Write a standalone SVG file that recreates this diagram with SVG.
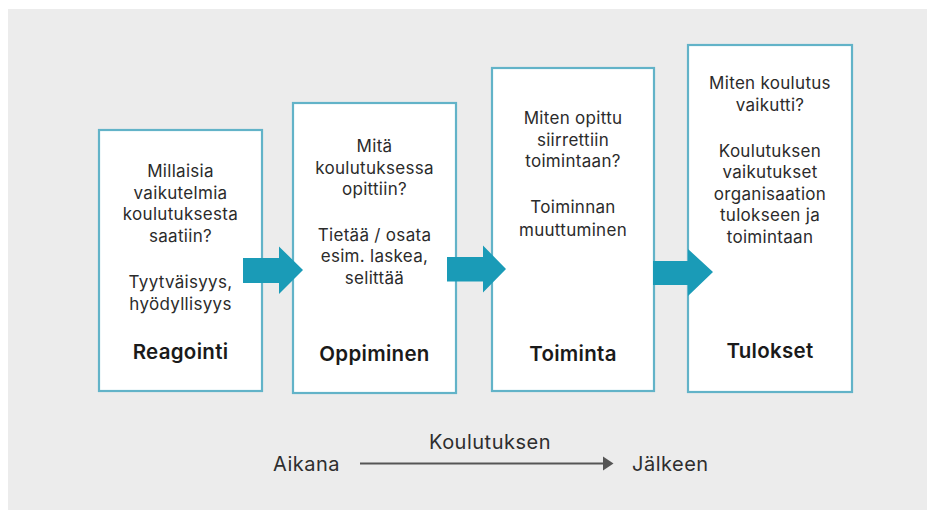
<svg xmlns="http://www.w3.org/2000/svg" width="927" height="510" viewBox="0 0 927 510">
<defs>
<style>
.bg{fill:#ececec}
.box{fill:#ffffff;stroke:#62b3c8;stroke-width:2.2}
.t{font-family:Inter,"Open Sans","Liberation Sans",sans-serif;font-size:17px;letter-spacing:0.3px;fill:#2b2b2b;text-anchor:middle}
.b{font-family:Inter,"Open Sans","Liberation Sans",sans-serif;font-size:20.5px;letter-spacing:0.3px;font-weight:600;fill:#1a1a1a;text-anchor:middle}
.s{font-family:Inter,"Open Sans","Liberation Sans",sans-serif;font-size:20px;letter-spacing:0.5px;fill:#2e2e2e}
.arr{fill:#1a9bb7}
</style>
</defs>
<rect class="bg" x="8" y="9" width="919" height="501"/>
<g id="reagointi">
<rect class="box" x="99" y="130" width="163" height="261"/>
<text class="t" x="180.5" y="177">Millaisia</text>
<text class="t" x="180.5" y="198.5">vaikutelmia</text>
<text class="t" x="180.5" y="220">koulutuksesta</text>
<text class="t" x="180.5" y="241.5">saatiin?</text>
<text class="t" x="180.5" y="288">Tyytväisyys,</text>
<text class="t" x="180.5" y="309.5">hyödyllisyys</text>
<text class="b" x="180.5" y="359">Reagointi</text>
</g>
<g id="oppiminen">
<rect class="box" x="293" y="103" width="163" height="290"/>
<text class="t" x="374.5" y="152">Mitä</text>
<text class="t" x="374.5" y="173.5">koulutuksessa</text>
<text class="t" x="374.5" y="195">opittiin?</text>
<text class="t" x="374.5" y="240.5">Tietää / osata</text>
<text class="t" x="374.5" y="262">esim. laskea,</text>
<text class="t" x="374.5" y="283.5">selittää</text>
<text class="b" x="374.5" y="361">Oppiminen</text>
</g>
<g id="toiminta">
<rect class="box" x="492" y="68" width="162" height="323"/>
<text class="t" x="573" y="124">Miten opittu</text>
<text class="t" x="573" y="145.5">siirrettiin</text>
<text class="t" x="573" y="167">toimintaan?</text>
<text class="t" x="573" y="213">Toiminnan</text>
<text class="t" x="573" y="236">muuttuminen</text>
<text class="b" x="573" y="361">Toiminta</text>
</g>
<g id="tulokset">
<rect class="box" x="688" y="45" width="164" height="347"/>
<text class="t" x="770" y="89">Miten koulutus</text>
<text class="t" x="770" y="110.5">vaikutti?</text>
<text class="t" x="770" y="156.5">Koulutuksen</text>
<text class="t" x="770" y="178">vaikutukset</text>
<text class="t" x="770" y="199.5">organisaation</text>
<text class="t" x="770" y="221">tulokseen ja</text>
<text class="t" x="770" y="243">toimintaan</text>
<text class="b" x="770" y="358">Tulokset</text>
</g>
<g id="connectors">
<path class="arr" d="M243,258 L279,258 L279,246.5 L303,270 L279,294 L279,283 L243,283 Z"/>
<path class="arr" d="M447,257 L483,257 L483,245.5 L506,269 L483,292.5 L483,281.5 L447,281.5 Z"/>
<path class="arr" d="M653,261 L688,261 L688,249 L713,272 L688,296 L688,285 L653,285 Z"/>
<line x1="360" y1="463.5" x2="604" y2="463.5" stroke="#555555" stroke-width="2"/>
<path d="M603,456.5 L613.5,463.5 L603,470.5 Z" fill="#555555"/>
</g>
<g id="timeline">
<text class="s" x="273" y="471">Aikana</text>
<text class="s" x="490" y="449" text-anchor="middle">Koulutuksen</text>
<text class="s" x="632" y="471">Jälkeen</text>
</g>
</svg>
